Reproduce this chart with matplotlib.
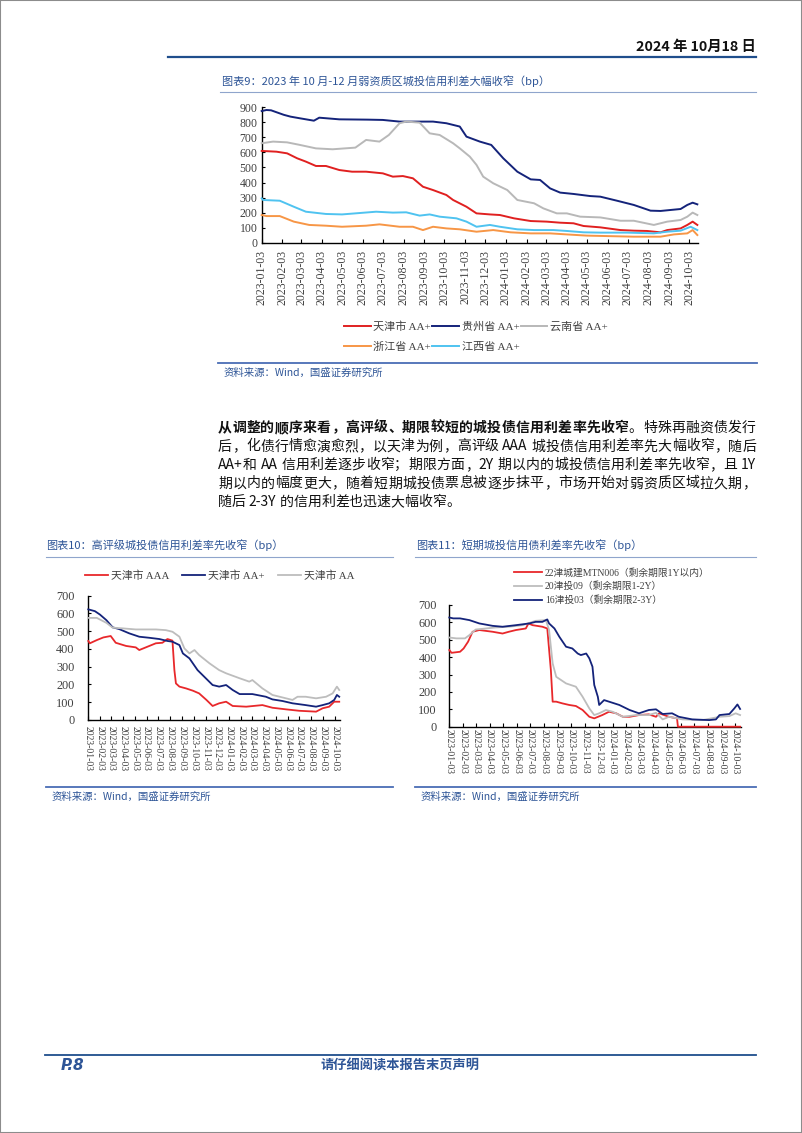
import re

import matplotlib
matplotlib.use("Agg")
import matplotlib.pyplot as plt
import pandas as pd
from matplotlib.lines import Line2D
from matplotlib.patches import Rectangle

W, H = 802, 1133
CJK = "Noto Sans CJK SC"
SERIF = ["Liberation Serif", CJK]
BLUE = "#2E5597"
END = "2024-10-16"

# ---- chart 9: weak-region AA+ spreads (bp) ----
TJ_AAP = [("2023-01-03", 610), ("2023-01-25", 605), ("2023-02-10", 594), ("2023-02-25", 561),
          ("2023-03-10", 539), ("2023-03-25", 510), ("2023-04-09", 510), ("2023-04-29", 483),
          ("2023-05-18", 472), ("2023-06-08", 472), ("2023-07-03", 461), ("2023-07-18", 439),
          ("2023-08-02", 443), ("2023-08-17", 428), ("2023-09-01", 372), ("2023-09-16", 350),
          ("2023-10-06", 317), ("2023-10-16", 284), ("2023-11-05", 239), ("2023-11-20", 195),
          ("2023-12-10", 188), ("2023-12-25", 184), ("2024-01-15", 162), ("2024-02-09", 144),
          ("2024-03-04", 140), ("2024-03-24", 133), ("2024-04-13", 129), ("2024-04-28", 111),
          ("2024-05-23", 102), ("2024-06-22", 84), ("2024-07-12", 80), ("2024-08-01", 78),
          ("2024-08-21", 69), ("2024-08-31", 84), ("2024-09-20", 95), ("2024-09-30", 118),
          ("2024-10-08", 140), ("2024-10-15", 118)]
GZ_AAP = [("2023-01-03", 875), ("2023-01-10", 882), ("2023-01-17", 880), ("2023-02-05", 850),
          ("2023-02-15", 838), ("2023-03-01", 827), ("2023-03-22", 811), ("2023-03-30", 831),
          ("2023-04-29", 820), ("2023-06-10", 818), ("2023-07-03", 816), ("2023-07-28", 805),
          ("2023-09-16", 805), ("2023-10-06", 794), ("2023-10-26", 772), ("2023-11-05", 705),
          ("2023-11-25", 672), ("2023-12-12", 650), ("2023-12-30", 561), ("2024-01-20", 472),
          ("2024-02-09", 421), ("2024-02-23", 417), ("2024-03-09", 361), ("2024-03-24", 333),
          ("2024-04-13", 324), ("2024-05-08", 310), ("2024-05-23", 306), ("2024-06-17", 279),
          ("2024-07-12", 251), ("2024-08-06", 213), ("2024-08-21", 211), ("2024-09-20", 224),
          ("2024-09-30", 251), ("2024-10-08", 266), ("2024-10-15", 255)]
YN_AAP = [("2023-01-03", 661), ("2023-01-20", 672), ("2023-02-10", 667), ("2023-03-01", 650),
          ("2023-03-25", 627), ("2023-04-19", 621), ("2023-05-23", 632), ("2023-06-08", 683),
          ("2023-06-28", 672), ("2023-07-12", 716), ("2023-07-28", 794), ("2023-08-07", 805),
          ("2023-08-27", 798), ("2023-09-11", 727), ("2023-09-26", 716), ("2023-10-16", 661),
          ("2023-10-26", 627), ("2023-11-10", 572), ("2023-11-20", 517), ("2023-11-30", 439),
          ("2023-12-15", 395), ("2024-01-05", 350), ("2024-01-20", 284), ("2024-02-14", 262),
          ("2024-02-28", 228), ("2024-03-19", 195), ("2024-04-03", 195), ("2024-04-23", 173),
          ("2024-05-23", 168), ("2024-06-22", 146), ("2024-07-12", 146), ("2024-08-11", 118),
          ("2024-08-31", 140), ("2024-09-20", 151), ("2024-09-30", 173), ("2024-10-08", 200),
          ("2024-10-15", 184)]
ZJ_AAP = [("2023-01-03", 184), ("2023-01-10", 177), ("2023-01-30", 177), ("2023-02-20", 140),
          ("2023-03-15", 118), ("2023-04-09", 113), ("2023-05-03", 106), ("2023-06-08", 113),
          ("2023-06-28", 122), ("2023-07-28", 106), ("2023-08-17", 106), ("2023-09-01", 84),
          ("2023-09-16", 106), ("2023-10-06", 95), ("2023-10-26", 89), ("2023-11-20", 73),
          ("2023-12-15", 84), ("2024-01-10", 69), ("2024-02-09", 62), ("2024-03-09", 62),
          ("2024-04-03", 55), ("2024-05-03", 47), ("2024-06-02", 44), ("2024-07-12", 40),
          ("2024-08-21", 40), ("2024-09-10", 55), ("2024-09-30", 62), ("2024-10-08", 84),
          ("2024-10-15", 51)]
JX_AAP = [("2023-01-03", 295), ("2023-01-05", 284), ("2023-01-30", 279), ("2023-02-20", 239),
          ("2023-03-10", 206), ("2023-04-09", 191), ("2023-05-03", 188), ("2023-05-23", 195),
          ("2023-06-23", 206), ("2023-07-18", 200), ("2023-08-07", 202), ("2023-08-27", 180),
          ("2023-09-11", 188), ("2023-09-26", 173), ("2023-10-21", 162), ("2023-11-05", 140),
          ("2023-11-20", 106), ("2023-12-10", 118), ("2023-12-25", 106), ("2024-01-20", 89),
          ("2024-02-14", 84), ("2024-03-14", 84), ("2024-04-03", 78), ("2024-04-28", 69),
          ("2024-05-23", 67), ("2024-07-02", 67), ("2024-08-11", 62), ("2024-08-31", 73),
          ("2024-09-20", 80), ("2024-10-05", 106), ("2024-10-15", 84)]

# ---- chart 10: Tianjin by rating (bp) ----
TJ_AAA = [("2023-01-03", 445), ("2023-01-07", 432), ("2023-01-25", 450), ("2023-02-11", 465),
          ("2023-03-02", 473), ("2023-03-15", 435), ("2023-04-11", 417), ("2023-05-06", 409),
          ("2023-05-15", 394), ("2023-06-01", 409), ("2023-06-27", 432), ("2023-07-14", 435),
          ("2023-07-27", 456), ("2023-08-09", 447), ("2023-08-14", 281), ("2023-08-18", 206),
          ("2023-08-27", 188), ("2023-09-13", 178), ("2023-10-01", 165), ("2023-10-17", 150),
          ("2023-11-05", 113), ("2023-11-21", 79), ("2023-12-08", 94), ("2023-12-26", 103),
          ("2024-01-12", 79), ("2024-02-16", 75), ("2024-03-29", 84), ("2024-04-24", 69),
          ("2024-05-29", 60), ("2024-07-02", 52), ("2024-08-15", 47), ("2024-09-01", 66),
          ("2024-09-18", 75), ("2024-10-01", 103), ("2024-10-14", 103)]
TJ_AAP2 = [("2023-01-03", 623), ("2023-01-20", 613), ("2023-02-02", 594), ("2023-02-19", 562),
           ("2023-03-07", 522), ("2023-03-24", 512), ("2023-04-19", 488), ("2023-05-15", 469),
           ("2023-06-10", 463), ("2023-07-06", 456), ("2023-07-27", 445), ("2023-08-09", 441),
           ("2023-08-27", 422), ("2023-09-05", 375), ("2023-09-22", 347), ("2023-10-13", 281),
           ("2023-10-26", 253), ("2023-11-21", 197), ("2023-12-08", 188), ("2023-12-26", 197),
           ("2024-01-12", 169), ("2024-01-30", 146), ("2024-03-03", 146), ("2024-04-07", 131),
           ("2024-04-24", 116), ("2024-05-20", 107), ("2024-06-15", 94), ("2024-07-19", 84),
           ("2024-08-15", 75), ("2024-09-01", 84), ("2024-09-18", 94), ("2024-10-01", 113),
           ("2024-10-08", 141), ("2024-10-14", 131)]
TJ_AA = [("2023-01-03", 575), ("2023-01-25", 575), ("2023-02-19", 547), ("2023-03-07", 520),
         ("2023-04-02", 516), ("2023-05-06", 510), ("2023-06-01", 510), ("2023-06-27", 510),
         ("2023-07-23", 506), ("2023-08-09", 497), ("2023-08-27", 469), ("2023-09-09", 403),
         ("2023-09-22", 375), ("2023-10-05", 394), ("2023-10-17", 366), ("2023-11-13", 319),
         ("2023-12-08", 281), ("2023-12-26", 263), ("2024-01-30", 235), ("2024-02-24", 216),
         ("2024-03-03", 225), ("2024-03-29", 178), ("2024-04-24", 141), ("2024-06-15", 113),
         ("2024-06-28", 131), ("2024-07-19", 131), ("2024-08-15", 122), ("2024-09-10", 131),
         ("2024-09-27", 150), ("2024-10-08", 188), ("2024-10-14", 169)]

# ---- chart 11: short-dated Tianjin bonds (bp) ----
MTN006 = [("2023-01-03", 441), ("2023-01-08", 425), ("2023-01-27", 431), ("2023-02-04", 450),
          ("2023-02-14", 489), ("2023-02-24", 546), ("2023-03-11", 556), ("2023-04-10", 546),
          ("2023-05-02", 536), ("2023-05-16", 546), ("2023-06-01", 556), ("2023-06-23", 565),
          ("2023-06-29", 594), ("2023-07-08", 584), ("2023-07-30", 575), ("2023-08-10", 565),
          ("2023-08-18", 326), ("2023-08-22", 144), ("2023-08-30", 144), ("2023-09-13", 134),
          ("2023-09-28", 125), ("2023-10-13", 119), ("2023-10-28", 96), ("2023-11-12", 57),
          ("2023-11-23", 48), ("2023-12-11", 67), ("2023-12-26", 86), ("2024-01-11", 77),
          ("2024-01-26", 57), ("2024-02-10", 57), ("2024-03-02", 67), ("2024-03-24", 71),
          ("2024-04-09", 57), ("2024-04-16", 77), ("2024-05-08", 57), ("2024-05-26", 48),
          ("2024-05-28", 0), ("2024-10-14", 0)]
JT09 = [("2023-01-03", 513), ("2023-01-19", 508), ("2023-02-07", 508), ("2023-02-17", 527),
        ("2023-03-03", 559), ("2023-03-26", 565), ("2023-04-17", 571), ("2023-05-16", 575),
        ("2023-06-16", 584), ("2023-07-15", 609), ("2023-08-07", 613), ("2023-08-14", 556),
        ("2023-08-22", 364), ("2023-08-30", 287), ("2023-09-21", 249), ("2023-10-13", 230),
        ("2023-10-28", 172), ("2023-11-12", 105), ("2023-11-23", 67), ("2023-12-04", 77),
        ("2023-12-19", 96), ("2024-01-03", 86), ("2024-01-26", 57), ("2024-02-25", 67),
        ("2024-03-24", 67), ("2024-04-09", 80), ("2024-04-24", 42), ("2024-05-08", 57),
        ("2024-06-07", 42), ("2024-07-22", 38), ("2024-08-29", 57), ("2024-09-20", 61),
        ("2024-10-04", 77), ("2024-10-14", 67)]
JT03 = [("2023-01-03", 628), ("2023-01-12", 623), ("2023-01-27", 623), ("2023-02-17", 613),
        ("2023-03-11", 594), ("2023-04-10", 580), ("2023-05-02", 575), ("2023-06-01", 584),
        ("2023-07-01", 594), ("2023-07-15", 603), ("2023-07-30", 603), ("2023-08-10", 617),
        ("2023-08-14", 594), ("2023-08-26", 565), ("2023-09-06", 517), ("2023-09-21", 460),
        ("2023-10-05", 450), ("2023-10-17", 421), ("2023-10-24", 412), ("2023-11-05", 421),
        ("2023-11-12", 393), ("2023-11-19", 345), ("2023-11-23", 240), ("2023-12-01", 172),
        ("2023-12-04", 125), ("2023-12-15", 153), ("2023-12-26", 144), ("2024-01-18", 125),
        ("2024-02-10", 96), ("2024-03-02", 77), ("2024-03-24", 96), ("2024-04-09", 100),
        ("2024-04-24", 73), ("2024-05-15", 77), ("2024-05-30", 57), ("2024-06-29", 42),
        ("2024-08-06", 38), ("2024-08-21", 42), ("2024-08-29", 67), ("2024-09-20", 73),
        ("2024-10-01", 105), ("2024-10-08", 128), ("2024-10-14", 102)]

PARA = [
    [("从调整的顺序来看，高评级、期限较短的城投债信用利差率先收窄", "bold"), ("。特殊再融资债发行", "normal")],
    [("后，化债行情愈演愈烈，以天津为例，高评级 AAA 城投债信用利差率先大幅收窄，随后", "normal")],
    [("AA+和 AA 信用利差逐步收窄；期限方面，2Y 期以内的城投债信用利差率先收窄，且 1Y", "normal")],
    [("期以内的幅度更大，随着短期城投债票息被逐步抹平，市场开始对弱资质区域拉久期，", "normal")],
    [("随后 2-3Y 的信用利差也迅速大幅收窄。", "normal")],
]

fig = plt.figure(figsize=(W / 100, H / 100), dpi=100)


def fx(x):
    return x / W


def fy(y):
    return 1 - y / H


def hline(x0, x1, y, color, lw):
    fig.add_artist(Line2D([fx(x0), fx(x1)], [fy(y), fy(y)], transform=fig.transFigure, color=color, lw=lw))


def txt(x, y, s, **kw):
    kw.setdefault("family", [CJK, "DejaVu Sans"])
    return fig.text(fx(x), fy(y), s, va="center", **kw)


def px_axes(x0, y0, x1, y1):
    return fig.add_axes([fx(x0), fy(y1), (x1 - x0) / W, (y1 - y0) / H])


def draw(ax, pts, color, label, lw=1.4):
    s = pd.Series([v for _, v in pts], index=pd.to_datetime([d for d, _ in pts]))
    ax.plot(s.index, s.values, color=color, lw=lw, label=label, zorder=3, clip_on=False,
            solid_joinstyle="round")


def style_axes(ax, ymax, xrot, xfs, yfs, xpad, ypad):
    ax.set_ylim(0, ymax)
    ax.set_xlim(pd.Timestamp("2023-01-03"), pd.Timestamp(END))
    ticks = pd.date_range("2023-01-03", "2024-10-03", freq=pd.DateOffset(months=1))
    ax.set_xticks(ticks)
    ax.set_xticklabels([t.strftime("%Y-%m-%d") for t in ticks], rotation=xrot, fontsize=xfs,
                       family=SERIF, color="#404040")
    ax.set_yticks(range(0, ymax + 1, 100))
    ax.set_yticklabels([str(v) for v in range(0, ymax + 1, 100)], fontsize=yfs, family=SERIF,
                       color="#404040")
    for s in ("top", "right"):
        ax.spines[s].set_visible(False)
    for s in ("left", "bottom"):
        ax.spines[s].set_linewidth(1.0)
    ax.tick_params(axis="x", direction="in", length=3, width=0.8, pad=xpad)
    ax.tick_params(axis="y", direction="in", length=2, width=0.8, pad=ypad)
    ax.patch.set_alpha(0)


def source(x0, x1, y):
    hline(x0, x1, y, "#4A6DB5", 1.3)
    txt(x0 + 6, y + 10, "资料来源：Wind，国盛证券研究所", fontsize=7.5, style="italic", color=BLUE)


# page frame, header, footer
fig.patches.append(Rectangle((0, 0), 1, 1, transform=fig.transFigure, fill=False,
                             edgecolor="#8c8c8c", lw=1.5))
txt(756, 47, "2024 年 10月18 日", fontsize=10.3, ha="right", weight="bold", color="#111111")
hline(168, 756, 57, "#1F4E8C", 1.6)
hline(45, 756, 1055, "#1F4E8C", 1.3)
txt(61, 1066, "P.8", fontsize=11, weight="bold", style="italic", color=BLUE,
    family=["DejaVu Sans"])
txt(400, 1066, "请仔细阅读本报告末页声明", fontsize=9.5, weight="bold", ha="center", color=BLUE)

# ---- chart 9 ----
txt(222, 81, "图表9：2023 年 10 月-12 月弱资质区城投信用利差大幅收窄（bp）", fontsize=8,
    style="italic", color=BLUE)
hline(220, 756, 92, "#8FA5CC", 0.8)
ax9 = px_axes(261.7, 107.3, 698, 242.7)
draw(ax9, TJ_AAP, "#E02020", "天津市 AA+")
draw(ax9, GZ_AAP, "#14237A", "贵州省 AA+")
draw(ax9, YN_AAP, "#B8B8B8", "云南省 AA+")
draw(ax9, ZJ_AAP, "#F79646", "浙江省 AA+")
draw(ax9, JX_AAP, "#4FC3F0", "江西省 AA+")
style_axes(ax9, 900, 90, 8.5, 8.5, 5, 3)
h, l = ax9.get_legend_handles_labels()
order = [0, 3, 1, 4, 2]
fig.legend([h[i] for i in order], [l[i] for i in order], ncol=3, loc="upper left",
           bbox_to_anchor=(fx(344), fy(321)), frameon=False, handlelength=2.4, handletextpad=0.25,
           columnspacing=0.1, labelspacing=0.9, borderaxespad=0, borderpad=0,
           prop={"family": SERIF, "size": 8.0}, labelcolor="#404040")
source(218, 757, 363)

# ---- paragraph ----
PX0, PX1, PFS = 218, 756, 10.0
renderer = fig.canvas.get_renderer()
for i, parts in enumerate(PARA):
    y = 428 + 18.5 * i
    toks = []
    for s, w in parts:
        toks += [(m.group(), w) for m in re.finditer(r"[A-Za-z0-9+\-]+|.", s)]
    arts = [fig.text(0, fy(y), t, fontsize=PFS, family=[CJK], weight=w, va="center",
                     color="#111111") for t, w in toks]
    widths = [a.get_window_extent(renderer).width for a in arts]
    gap = (PX1 - PX0 - sum(widths)) / (len(arts) - 1) if i < len(PARA) - 1 else 0
    x = PX0
    for a, wd in zip(arts, widths):
        a.set_x(fx(x))
        x += wd + gap

# ---- chart 10 ----
txt(46, 545, "图表10：高评级城投债信用利差率先收窄（bp）", fontsize=8, style="italic", color=BLUE)
hline(46, 393, 557, "#8FA5CC", 0.8)
ax10 = px_axes(88.3, 595.7, 340, 720)
draw(ax10, TJ_AAA, "#E8282B", "天津市 AAA", lw=1.3)
draw(ax10, TJ_AAP2, "#14237A", "天津市 AA+", lw=1.3)
draw(ax10, TJ_AA, "#BDBDBD", "天津市 AA", lw=1.3)
style_axes(ax10, 700, -90, 7, 8.8, 4, 10)
fig.legend(*ax10.get_legend_handles_labels(), ncol=3, loc="upper left",
           bbox_to_anchor=(fx(85), fy(570)), frameon=False, handlelength=2.1, handletextpad=0.3,
           columnspacing=1.2, borderaxespad=0, borderpad=0,
           prop={"family": SERIF, "size": 7.8}, labelcolor="#404040")
source(46, 393, 787)

# ---- chart 11 ----
txt(416, 545, "图表11：短期城投信用债利差率先收窄（bp）", fontsize=8, style="italic", color=BLUE)
hline(415, 756, 557, "#8FA5CC", 0.8)
ax11 = px_axes(449.3, 605, 741, 726.7)
draw(ax11, MTN006, "#E8282B", "22津城建MTN006（剩余期限1Y以内）", lw=1.3)
draw(ax11, JT09, "#BDBDBD", "20津投09（剩余期限1-2Y）", lw=1.3)
draw(ax11, JT03, "#14237A", "16津投03（剩余期限2-3Y）", lw=1.3)
style_axes(ax11, 700, -90, 7, 8.8, 2, 9)
fig.legend(*ax11.get_legend_handles_labels(), ncol=1, loc="upper left",
           bbox_to_anchor=(fx(514), fy(568)), frameon=False, handlelength=2.9, handletextpad=0.3,
           labelspacing=0.4, borderaxespad=0, borderpad=0,
           prop={"family": SERIF, "size": 7.0}, labelcolor="#404040")
source(415, 756, 787)

fig.savefig("out.png", dpi=100)
